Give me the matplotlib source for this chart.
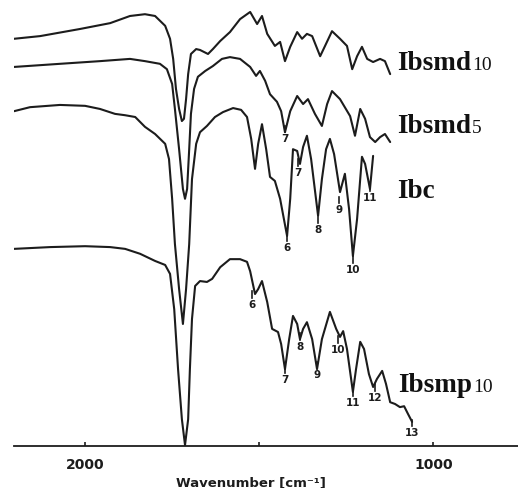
import matplotlib
matplotlib.use("Agg")
import matplotlib.pyplot as plt

# ---- data (wavenumber in cm-1, transmittance in arbitrary % units, stacked) ----
wn_smd10 = [2204, 2129, 2014, 1928, 1871, 1828, 1799, 1770, 1756, 1747, 1739, 1730, 1722, 1716,
            1710, 1704, 1696, 1681, 1670, 1647, 1633, 1612, 1584, 1555, 1526, 1506, 1492, 1477,
            1455, 1440, 1426, 1411, 1391, 1377, 1363, 1348, 1325, 1311, 1291, 1268, 1248, 1233,
            1219, 1205, 1190, 1173, 1153, 1139, 1124]
t_smd10 = [91.1, 91.7, 93.3, 94.6, 96.2, 96.6, 96.2, 94.0, 91.1, 86.6, 79.9, 75.4, 72.7, 73.2,
           77.6, 83.2, 87.7, 88.8, 88.6, 87.7, 88.8, 90.6, 92.6, 95.5, 97.1, 94.4, 96.2, 92.2,
           89.5, 90.4, 86.1, 89.3, 92.6, 91.1, 92.2, 91.7, 87.2, 89.5, 92.8, 91.1, 89.5, 84.3,
           87.2, 89.3, 86.6, 85.9, 86.6, 86.1, 83.2]

wn_smd5 = [2204, 2072, 1957, 1871, 1828, 1785, 1765, 1750, 1742, 1730, 1719, 1713, 1707, 1701,
           1696, 1687, 1676, 1655, 1633, 1607, 1584, 1555, 1526, 1509, 1498, 1483, 1469, 1449,
           1437, 1426, 1411, 1391, 1374, 1360, 1340, 1320, 1305, 1291, 1268, 1239, 1225, 1210,
           1196, 1182, 1167, 1153, 1139, 1124]
t_smd5 = [84.8, 85.5, 86.1, 86.6, 86.1, 85.5, 84.3, 81.0, 75.4, 66.4, 57.5, 55.3, 57.5, 66.4,
          74.3, 79.9, 82.6, 83.9, 85.0, 86.6, 87.0, 86.6, 84.8, 82.8, 83.9, 81.7, 78.7, 77.0,
          74.9, 70.2, 74.9, 78.3, 76.5, 77.6, 74.3, 71.6, 76.5, 79.4, 77.6, 73.8, 69.4, 75.4,
          73.2, 69.1, 68.0, 69.1, 69.8, 68.0]

wn_ibc = [2204, 2158, 2072, 2000, 1957, 1914, 1885, 1856, 1828, 1799, 1770, 1759, 1750, 1742,
          1730, 1719, 1710, 1701, 1693, 1681, 1670, 1650, 1627, 1604, 1575, 1552, 1535, 1523,
          1512, 1503, 1492, 1480, 1469, 1455, 1440, 1420, 1411, 1403, 1391, 1383, 1374, 1363,
          1351, 1331, 1320, 1308, 1297, 1285, 1268, 1254, 1242, 1231, 1219, 1205, 1196, 1182,
          1173]
t_ibc = [74.9, 75.8, 76.3, 76.1, 75.4, 74.3, 74.0, 73.6, 71.4, 69.8, 67.6, 64.2, 55.3, 45.2,
         35.1, 27.3, 35.1, 45.2, 59.7, 67.6, 70.2, 71.6, 73.6, 74.7, 75.6, 75.2, 73.6, 68.7,
         62.0, 67.6, 72.0, 66.4, 60.2, 59.3, 55.3, 47.0, 55.3, 66.4, 66.0, 63.1, 66.9, 69.4,
         64.2, 51.5, 59.7, 66.4, 68.7, 65.3, 56.8, 60.9, 53.0, 42.5, 50.8, 64.7, 63.1, 57.5,
         64.9]

wn_smp10 = [2204, 2100, 2000, 1928, 1885, 1842, 1799, 1770, 1756, 1744, 1733, 1722, 1713, 1704,
            1699, 1693, 1684, 1670, 1650, 1635, 1612, 1584, 1555, 1535, 1526, 1512, 1503, 1492,
            1477, 1463, 1446, 1437, 1426, 1414, 1403, 1391, 1383, 1374, 1363, 1348, 1334, 1320,
            1297, 1279, 1268, 1259, 1248, 1231, 1222, 1210, 1199, 1185, 1173, 1162, 1147, 1136,
            1124, 1110, 1096, 1084, 1073, 1061]
t_smp10 = [44.1, 44.5, 44.7, 44.5, 44.1, 43.0, 41.4, 40.5, 38.5, 30.6, 17.2, 6.0, 0.2, 6.0,
           17.2, 28.4, 35.8, 36.9, 36.7, 37.4, 40.0, 41.8, 41.8, 41.2, 39.1, 34.0, 35.1, 36.9,
           32.2, 26.2, 25.5, 22.8, 17.2, 23.9, 29.1, 27.3, 23.9, 26.2, 27.7, 23.9, 17.2, 23.9,
           30.0, 26.2, 24.4, 25.7, 21.7, 12.1, 17.2, 23.3, 21.7, 16.1, 13.2, 15.0, 16.8, 13.9,
           9.8, 9.4, 8.7, 8.9, 7.2, 5.4]

series_names = ["Ibsmd", "Ibsmd", "Ibc", "Ibsmp"]
series_subs = ["10", "5", "", "10"]
name_pos = [(1104, 84.3), (1104, 70.2), (1104, 55.7), (1101, 12.3)]

# peak labels: (text, wavenumber, transmittance of label)
peak_smd5 = [("7", 1426, 68.9)]
peak_ibc = [("6", 1420, 44.5), ("7", 1388, 61.3), ("8", 1331, 48.5), ("9", 1271, 53.0),
            ("10", 1231, 39.6), ("11", 1182, 55.7)]
peak_smp10 = [("6", 1521, 31.8), ("7", 1426, 15.0), ("8", 1383, 22.4), ("9", 1334, 16.1),
              ("10", 1274, 21.7), ("11", 1231, 9.8), ("12", 1167, 11.0), ("13", 1061, 3.1)]

xticks = [2000, 1500, 1000]
xticklabels = ["2000", "", "1000"]

# ---- figure ----
W, H, DPI = 518, 489, 100
fig = plt.figure(figsize=(W / DPI, H / DPI), dpi=DPI)
ax = fig.add_axes([14 / W, (H - 447) / H, 1 - 14 / W, 447 / H])
ax.set_xlim(2204, 757)
ax.set_ylim(0, 100)

lc = "#1c1c1c"
for wn, t in [(wn_smd10, t_smd10), (wn_smd5, t_smd5), (wn_ibc, t_ibc), (wn_smp10, t_smp10)]:
    ax.plot(wn, t, color=lc, lw=1.5, solid_joinstyle="round", solid_capstyle="round")

for lab, x, y in peak_smd5 + peak_ibc + peak_smp10:
    ax.text(x, y, lab, ha="center", va="center", fontsize=7.5, fontweight="bold",
            color=lc, family="DejaVu Sans")
    ax.plot([x, x], [y + 1.3, y + 2.8], color=lc, lw=1.2)

for s in ["top", "right", "left"]:
    ax.spines[s].set_visible(False)
ax.spines["bottom"].set_linewidth(1.3)
ax.spines["bottom"].set_color(lc)
ax.set_yticks([])
ax.set_xticks(xticks)
ax.set_xticklabels(xticklabels)
ax.tick_params(axis="x", direction="in", length=3, width=1.2, pad=8, colors=lc,
               labelsize=10)
for lbl in ax.get_xticklabels():
    lbl.set_fontweight("bold")
    lbl.set_family("DejaVu Sans")

fig.text(251 / W, 1 - 483 / H, "Wavenumber [cm\u207b\u00b9]", ha="center", va="center",
         fontsize=9.5, fontweight="bold", color=lc, family="DejaVu Sans")

name_texts = []
for name, (x, y) in zip(series_names, name_pos):
    t = ax.text(x, y, name, ha="left", va="baseline", fontsize=19.5, fontweight="bold",
                family="Liberation Serif", color="#111111")
    name_texts.append(t)

fig.canvas.draw()
renderer = fig.canvas.get_renderer()
for t, sub, (x, y) in zip(name_texts, series_subs, name_pos):
    if not sub:
        continue
    bb = t.get_window_extent(renderer)
    xd, yd = ax.transData.transform((x, y))
    fig.text((bb.x1 + 1) / W, yd / H, sub, ha="left", va="baseline", fontsize=14,
             family="Liberation Serif", color="#111111")

fig.savefig("out.png", dpi=DPI)
